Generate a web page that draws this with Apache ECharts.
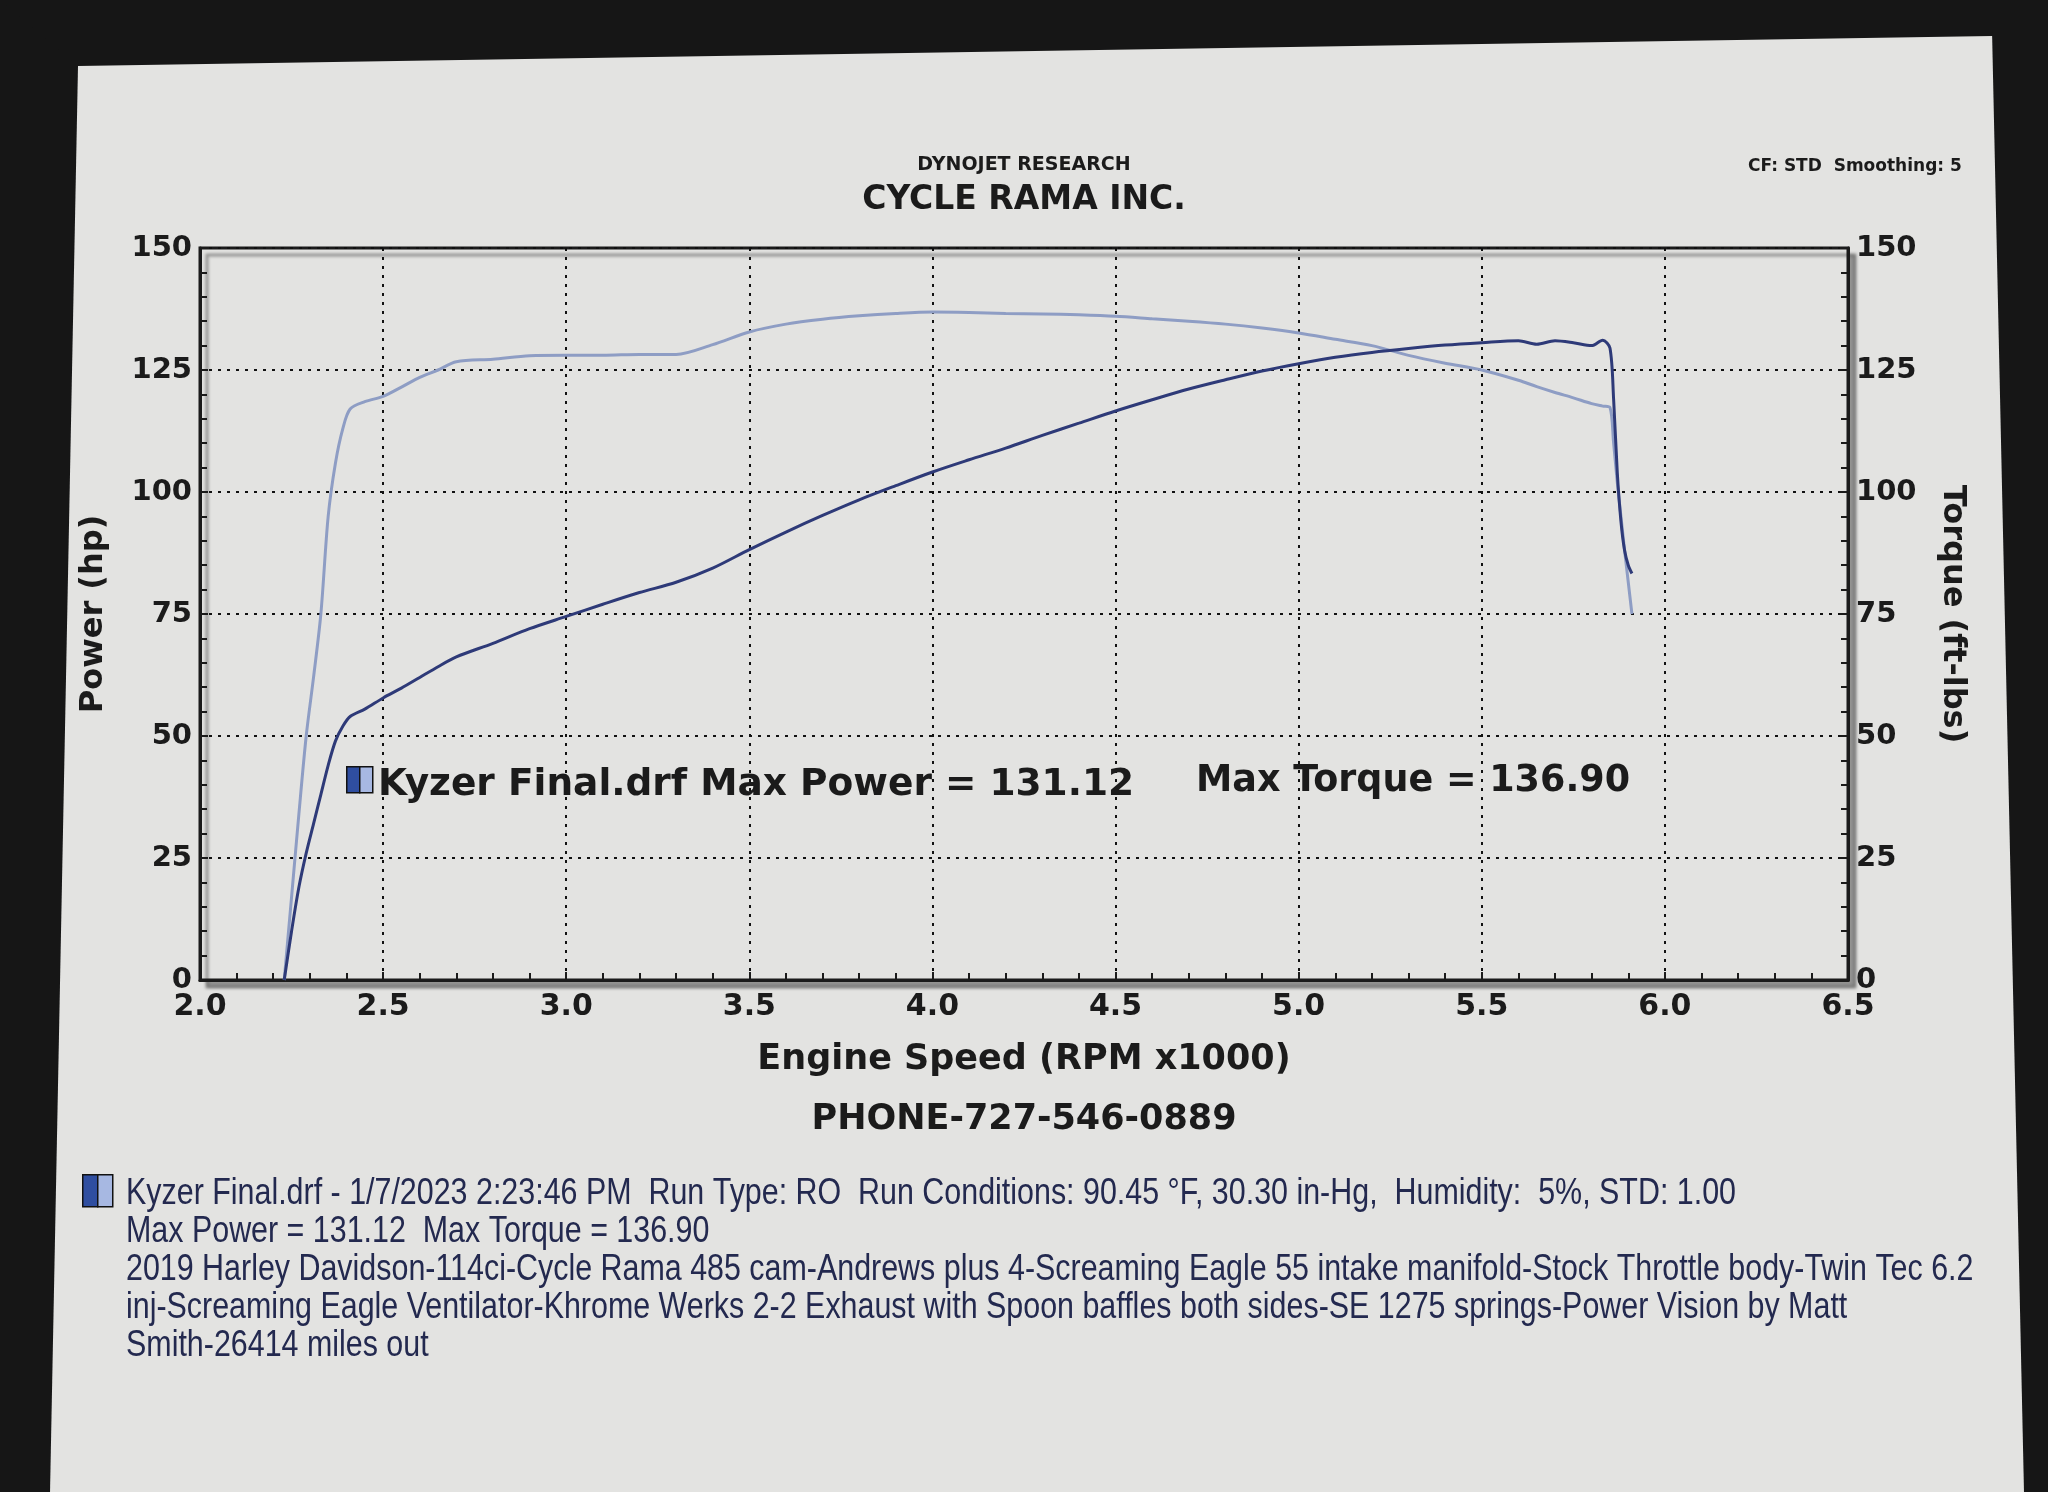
<!DOCTYPE html>
<html>
<head>
<meta charset="utf-8">
<script src="https://cdn.jsdelivr.net/npm/echarts@6/dist/echarts.min.js"></script>
<style>
html,body{margin:0;padding:0;background:#161616;}
#chart{width:2048px;height:1492px;}
</style>
</head>
<body>
<div id="chart"></div>
<script>
// ---- data read from the dyno sheet ----
const rpm = [2.23,2.25,2.27,2.29,2.31,2.33,2.35,2.37,2.39,2.41,2.45,2.50,2.55,2.60,2.65,2.70,2.80,2.90,3.00,3.10,3.20,3.30,3.40,3.50,3.60,3.70,3.80,3.90,4.00,4.10,4.20,4.30,4.40,4.50,4.60,4.70,4.80,4.90,5.00,5.10,5.20,5.30,5.40,5.50,5.60,5.65,5.70,5.75,5.80,5.83,5.85,5.86,5.87,5.88,5.89,5.90,5.91];
const powerHp = [0,10,19,26,32,38,44,49,52,54,55.5,57.8,59.8,62,64.2,66.2,69,72,74.5,77,79.4,81.5,84.4,88.2,91.8,95.2,98.4,101.3,104.1,106.6,109,111.6,114.1,116.6,118.9,121.1,123.0,124.8,126.3,127.6,128.6,129.4,130.1,130.6,131.0,130.3,131.0,130.6,130.0,131.12,129.5,119,104,94,88,85,83.3];
const torqueFtLb = [0,17,34,50,62,75,95,106,113,117,118.5,119.6,121.5,123.5,125,126.7,127.2,127.9,128.0,128.0,128.2,128.2,130.2,132.8,134.4,135.4,136.1,136.6,136.9,136.8,136.6,136.5,136.3,136.0,135.5,135.0,134.4,133.6,132.6,131.3,130.0,128.0,126.4,125.0,122.9,121.6,120.4,119.3,118.1,117.6,117.3,110,102,95,88,81.5,75];
const xRange = [2.0, 6.5];
const yRange = [0, 150];

const footerLines = [
  "Kyzer Final.drf - 1/7/2023 2:23:46 PM  Run Type: RO  Run Conditions: 90.45 \u00B0F, 30.30 in-Hg,  Humidity:  5%, STD: 1.00",
  "Max Power = 131.12  Max Torque = 136.90",
  "2019 Harley Davidson-114ci-Cycle Rama 485 cam-Andrews plus 4-Screaming Eagle 55 intake manifold-Stock Throttle body-Twin Tec 6.2",
  "inj-Screaming Eagle Ventilator-Khrome Werks 2-2 Exhaust with Spoon baffles both sides-SE 1275 springs-Power Vision by Matt",
  "Smith-26414 miles out"
];

const F = "'DejaVu Sans', Verdana, sans-serif";
const INK = '#1b1b1b';
const PAPER = '#e3e3e1';
const powerColor = '#2e3a78';
const torqueColor = '#8e9dc4';

const chart = echarts.init(document.getElementById('chart'));

function axisCommon() {
  return {
    axisLine: {show: true, lineStyle: {color: INK, width: 3}},
    axisTick: {show: true, inside: true, length: 8, lineStyle: {color: INK, width: 2}},
    minorTick: {show: true, splitNumber: 5, length: 7, lineStyle: {color: INK, width: 2}},
    splitLine: {show: true, lineStyle: {color: '#111', width: 2, type: [3, 6]}},
    axisLabel: {color: INK, fontFamily: F, fontWeight: 'bold', fontSize: 29}
  };
}

const footerGraphics = footerLines.map((t, i) => ({
  type: 'text', x: 126, y: 1176 + i * 38, scaleX: 0.845, z: 10,
  style: {text: t, fill: '#23294f', font: "36px 'Liberation Sans', Arial, sans-serif"}
}));

const option = {
  backgroundColor: PAPER,
  animation: false,
  grid: {
    left: 200, right: 200, top: 248, height: 732,
    show: true, backgroundColor: PAPER, borderColor: INK, borderWidth: 3,
    shadowColor: 'rgba(0,0,0,0.35)', shadowBlur: 3, shadowOffsetX: 7, shadowOffsetY: 7
  },
  xAxis: Object.assign(axisCommon(), {
    type: 'value', min: xRange[0], max: xRange[1], interval: 0.5,
    name: 'Engine Speed (RPM x1000)', nameLocation: 'middle', nameGap: 62,
    nameTextStyle: {color: INK, fontFamily: F, fontWeight: 'bold', fontSize: 35},
    axisLabel: {color: INK, fontFamily: F, fontWeight: 'bold', fontSize: 30, margin: 12,
      formatter: v => v.toFixed(1)}
  }),
  yAxis: [
    Object.assign(axisCommon(), {
      type: 'value', min: yRange[0], max: yRange[1], interval: 25, position: 'left',
      name: 'Power (hp)', nameLocation: 'middle', nameGap: 90, nameRotate: 90,
      nameTextStyle: {color: INK, fontFamily: F, fontWeight: 'bold', fontSize: 32}
    }),
    Object.assign(axisCommon(), {
      type: 'value', min: yRange[0], max: yRange[1], interval: 25, position: 'right',
      name: 'Torque (ft-lbs)', nameLocation: 'middle', nameGap: 88, nameRotate: -90,
      nameTextStyle: {color: INK, fontFamily: F, fontWeight: 'bold', fontSize: 32},
      splitLine: {show: false}
    })
  ],
  series: [
    {
      name: 'Power', type: 'line', yAxisIndex: 0, showSymbol: false, smooth: 0.3,
      lineStyle: {color: powerColor, width: 3},
      data: rpm.map((r, i) => [r, powerHp[i]]), z: 5
    },
    {
      name: 'Torque', type: 'line', yAxisIndex: 1, showSymbol: false, smooth: 0.3,
      lineStyle: {color: torqueColor, width: 3},
      data: rpm.map((r, i) => [r, torqueFtLb[i]]), z: 4
    }
  ],
  graphic: [
    // photo surround
    {type: 'polygon', z: 0, shape: {points: [[0,0],[2048,0],[2048,36],[1992,36],[78,66],[0,66]]}, style: {fill: '#161616'}},
    {type: 'polygon', z: 0, shape: {points: [[0,0],[78,66],[50,1492],[0,1492]]}, style: {fill: '#161616'}},
    {type: 'polygon', z: 0, shape: {points: [[1992,30],[2048,30],[2048,1492],[2024,1492]]}, style: {fill: '#161616'}},
    // headings
    {type: 'text', left: 'center', top: 156, z: 10,
      style: {text: 'DYNOJET RESEARCH', fill: INK, font: "bold 19px " + F}},
    {type: 'text', left: 'center', top: 184, z: 10,
      style: {text: 'CYCLE RAMA INC.', fill: INK, font: "bold 33px " + F}},
    {type: 'text', left: 1748, top: 158, z: 10,
      style: {text: 'CF: STD  Smoothing: 5', fill: INK, font: "bold 17px " + F}},
    // in-plot legend
    {type: 'rect', left: 346, top: 766, z: 10, shape: {width: 13, height: 26},
      style: {fill: '#2f4ea0', stroke: '#111', lineWidth: 1.5}},
    {type: 'rect', left: 359, top: 766, z: 10, shape: {width: 13, height: 26},
      style: {fill: '#a7b8e2', stroke: '#111', lineWidth: 1.5}},
    {type: 'text', left: 378, top: 766, z: 10,
      style: {text: 'Kyzer Final.drf Max Power = 131.12', fill: INK, font: "bold 37.5px " + F}},
    {type: 'text', left: 1196, top: 763, z: 10,
      style: {text: 'Max Torque = 136.90', fill: INK, font: "bold 36.5px " + F}},
    // phone
    {type: 'text', left: 'center', top: 1102, z: 10,
      style: {text: 'PHONE-727-546-0889', fill: INK, font: "bold 35px " + F}},
    // footer legend square
    {type: 'rect', left: 82, top: 1174, z: 10, shape: {width: 15, height: 32},
      style: {fill: '#2f4ea0', stroke: '#111', lineWidth: 1.5}},
    {type: 'rect', left: 97, top: 1174, z: 10, shape: {width: 15, height: 32},
      style: {fill: '#a7b8e2', stroke: '#111', lineWidth: 1.5}}
  ].concat(footerGraphics)
};
chart.setOption(option);
</script>
</body>
</html>
